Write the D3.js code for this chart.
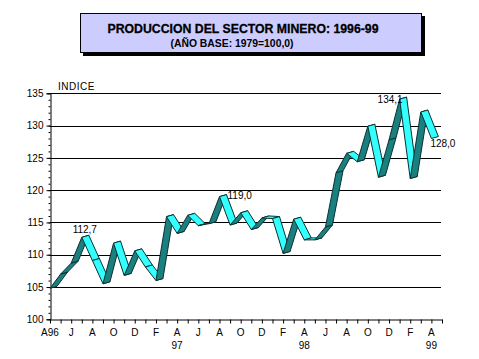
<!DOCTYPE html>
<html><head><meta charset="utf-8">
<script src="https://cdn.jsdelivr.net/npm/d3@7"></script>
<style>body{margin:0;background:#fff}svg{display:block}text{font-family:Arial,"Liberation Sans",sans-serif}</style>
</head><body>
<svg id="c" width="479" height="359"></svg>
<script>
const monthLabels = ["A96","J","A","O","D","F","A","J","A","O","D","F","A","J","A","O","D","F","A"];
const yearLabels = ["97","98","99"];
const yearIndex = [12,24,36];
const values = [104.8,107.0,108.7,112.7,109.1,105.5,111.8,106.8,110.6,108.1,106.0,115.9,113.3,116.1,114.5,114.8,119.0,114.6,116.5,113.9,115.7,115.6,110.2,115.5,112.3,112.3,114.3,122.7,125.7,124.4,129.9,122.0,127.8,134.1,121.8,132.1,128.0];
const labelIndex = [3,16,33,36];
const labelText = ["112,7","119,0","134,1","128,0"];
const yTicks = [100,105,110,115,120,125,130,135];

const svg = d3.select("#c");
const x = d3.scaleLinear().domain([0,37]).range([50,442]);
const y = d3.scaleLinear().domain([100,135]).range([319.3,93.3]);

// title box
svg.append("rect").attr("x",83).attr("y",16).attr("width",342).attr("height",40).attr("fill","#000");
svg.append("rect").attr("x",80.5).attr("y",13.5).attr("width",341).attr("height",39).attr("fill","#CCCCFF").attr("stroke","#000");
svg.append("text").attr("x",243).attr("y",33).attr("text-anchor","middle").attr("font-size",13).attr("font-weight","bold")
  .attr("textLength",271).attr("lengthAdjust","spacingAndGlyphs").attr("stroke","#000").attr("stroke-width",0.3).text("PRODUCCION DEL SECTOR MINERO: 1996-99");
svg.append("text").attr("x",232).attr("y",47).attr("text-anchor","middle").attr("font-size",10).attr("font-weight","bold")
  .attr("textLength",123).attr("lengthAdjust","spacingAndGlyphs").text("(AÑO BASE: 1979=100,0)");

svg.append("text").attr("x",58).attr("y",90).attr("font-size",10).attr("letter-spacing",0.5).text("INDICE");

// gridlines
svg.append("g").selectAll("line").data(yTicks.filter(d=>d>100)).join("line")
  .attr("x1",50).attr("x2",441).attr("y1",d=>Math.round(y(d))+0.5).attr("y2",d=>Math.round(y(d))+0.5)
  .attr("stroke","#000").attr("stroke-width",1);

// y axis
const yAxisG = svg.append("g").attr("transform","translate(50.5,0)")
  .call(d3.axisLeft(y).tickValues(yTicks).tickSize(4).tickFormat(d3.format("d")));
svg.append("g").attr("transform","translate(50.5,0)")
  .call(d3.axisLeft(y).tickValues(d3.range(100,136)).tickSize(2).tickFormat(""))
  .select(".domain").remove();
yAxisG.selectAll("text").attr("font-size",10).attr("font-family","Arial, 'Liberation Sans', sans-serif").attr("fill","#000");
yAxisG.selectAll("line,path").attr("stroke","#000");

// x axis
const xAxisG = svg.append("g").attr("transform","translate(0,319.5)")
  .call(d3.axisBottom(x).tickValues(d3.range(0,38)).tickSize(4).tickFormat("").tickSizeOuter(0));
xAxisG.selectAll("line,path").attr("stroke","#000");
svg.append("g").selectAll("text").data(monthLabels).join("text")
  .attr("x",(d,i)=>x(i*2)).attr("y",336).attr("text-anchor","middle").attr("font-size",10).text(d=>d);
svg.append("g").selectAll("text").data(yearLabels).join("text")
  .attr("x",(d,i)=>x(yearIndex[i])).attr("y",349).attr("text-anchor","middle").attr("font-size",10).text(d=>d);

// 3D ribbon
const dx = 7, dy = 2;
const segs = d3.range(values.length-1).map(i=>{
  const x1=x(i), y1=y(values[i]), x2=x(i+1), y2=y(values[i+1]);
  const dot = dx*(y2-y1) + dy*(x2-x1);
  return {pts:[[x1,y1],[x2,y2],[x2+dx,y2-dy],[x1+dx,y1-dy]], top: dot>0};
});
svg.append("g").selectAll("path").data(segs).join("path")
  .attr("d",d=>d3.line()(d.pts)+"Z")
  .attr("fill",d=>d.top?"#33FFFF":"#1A7F7F")
  .attr("stroke","#0b3030").attr("stroke-width",1).attr("stroke-linejoin","round");

// data labels
const offs = [[3,-4,"middle"],[8,2,"start"],[3,4,"end"],[-1,8,"start"]];
svg.append("g").selectAll("text").data(labelText).join("text")
  .attr("x",(d,i)=>x(labelIndex[i])+offs[i][0])
  .attr("y",(d,i)=>y(values[labelIndex[i]])+offs[i][1])
  .attr("text-anchor",(d,i)=>offs[i][2]).attr("font-size",10).text(d=>d);
</script>
</body></html>
